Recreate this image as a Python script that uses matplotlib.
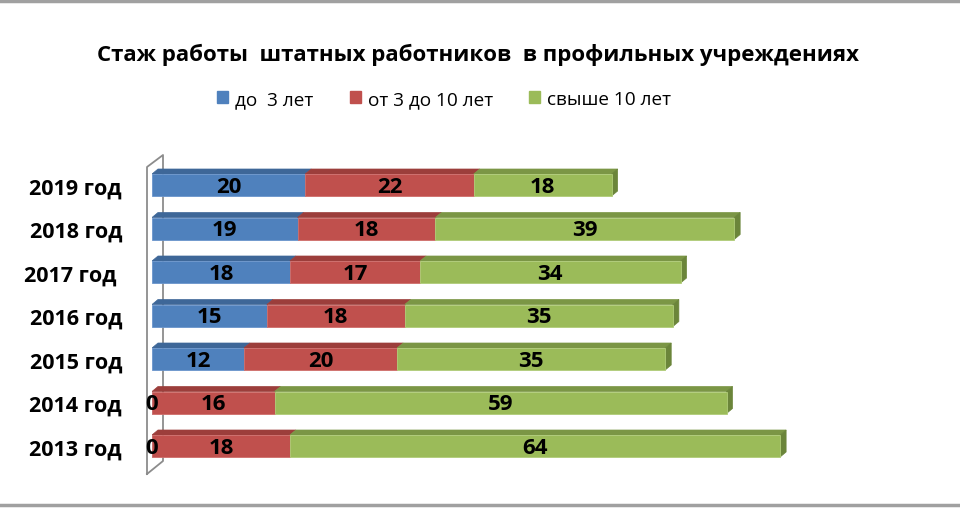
import matplotlib
matplotlib.use("Agg")
import matplotlib.pyplot as plt
from matplotlib.patches import Polygon, Patch
from matplotlib.lines import Line2D
import numpy as np

plt.rcParams['font.family'] = ['Open Sans', 'DejaVu Sans']

years = ["2013 год", "2014 год", "2015 год", "2016 год", "2017 год ", "2018 год", "2019 год"]
under3 = [0, 0, 12, 15, 18, 19, 20]
from3to10 = [18, 16, 20, 18, 17, 18, 22]
over10 = [64, 59, 35, 35, 34, 39, 18]
series_names = ["до  3 лет", "от 3 до 10 лет", "свыше 10 лет"]
title = "Стаж работы  штатных работников  в профильных учреждениях"

front_colors = ["#4F81BD", "#C0504D", "#9BBB59"]
edge_colors = ["#6A95CC", "#CF6D6A", "#B0CC78"]
top_colors = ["#3E6798", "#9C3E3B", "#7B9645"]
side_colors = ["#3A5F8D", "#8E3835", "#6B853A"]

W, H = 960, 510
fig = plt.figure(figsize=(W / 100, H / 100), dpi=100)

# axes in pixel layout
ax_left, ax_right = 152, 918
ax_top, ax_bottom = 164.25, 468.75
ax = fig.add_axes([ax_left / W, 1 - ax_bottom / H, (ax_right - ax_left) / W, (ax_bottom - ax_top) / H])
ax.set_xlim(0, 100)
ax.set_ylim(-0.5, 6.5)
ax.axis('off')

px_x = 100 / (ax_right - ax_left)
px_y = 7 / (ax_bottom - ax_top)
dx, dy = 6 * px_x, 5 * px_y
bh = 22 * px_y

y = np.arange(len(years))
data = [under3, from3to10, over10]
left = np.zeros(len(years))
for si, vals in enumerate(data):
    vals = np.array(vals, dtype=float)
    ax.barh(y, vals, left=left, height=bh, color=front_colors[si],
            edgecolor=edge_colors[si], linewidth=0.6, zorder=3)
    for i in range(len(years)):
        l, r = left[i], left[i] + vals[i]
        t = y[i] + bh / 2
        if vals[i] > 0:
            ax.add_patch(Polygon([[l, t], [r, t], [r + dx, t + dy], [l + dx, t + dy]],
                                 closed=True, facecolor=top_colors[si],
                                 edgecolor=top_colors[si], linewidth=0.5, zorder=2))
        ax.text((l + r) / 2, y[i] - 1.5 * px_y, f"{int(vals[i])}", ha='center', va='center',
                fontsize=16, fontweight='bold', color='black', zorder=5)
    left = left + vals

# side faces at bar ends
for i in range(len(years)):
    r = left[i]
    b, t = y[i] - bh / 2, y[i] + bh / 2
    ax.add_patch(Polygon([[r, b], [r, t], [r + dx, t + dy], [r + dx, b + dy]],
                         closed=True, facecolor=side_colors[2], edgecolor=side_colors[2],
                         linewidth=0.5, zorder=2))

# category labels
for i, lab in enumerate(years):
    ax.text(-30 * px_x, y[i] - 3 * px_y, lab, ha='right', va='center', fontsize=15.5,
            fontweight='bold', color='black')

# 3D wall (axis)
wx0, wx1 = -5 * px_x, 11 * px_x
wy_top_front = 6.5 - (168 - ax_top) * px_y
wy_top_back = 6.5 - (156 - ax_top) * px_y
wy_bot_front = 6.5 - (475 - ax_top) * px_y
wy_bot_back = 6.5 - (462 - ax_top) * px_y
ax.add_line(Line2D([wx0, wx0, wx1, wx1, wx0],
                   [wy_bot_front, wy_top_front, wy_top_back, wy_bot_back, wy_bot_front],
                   color='#8C8C8C', linewidth=1.3, clip_on=False, zorder=1))

# title and legend
fig.text(478 / W, 1 - 55 / H, title, ha='center', va='center', fontsize=16,
         fontweight='bold', color='black')
handles = [Patch(facecolor=c, edgecolor=c) for c in front_colors]
fig.legend(handles, series_names, loc='center', bbox_to_anchor=(444 / W, 1 - 100 / H),
           ncol=3, frameon=False, fontsize=13.7, handlelength=0.6, handleheight=0.6,
           handletextpad=0.35, columnspacing=1.9)

# frame lines top and bottom
fig.add_artist(Line2D([0, 1], [1 - 1.5 / H, 1 - 1.5 / H], color='#A0A0A0', linewidth=2.5))
fig.add_artist(Line2D([0, 1], [1 - 506 / H, 1 - 506 / H], color='#A0A0A0', linewidth=2.5))

fig.savefig("out.png", dpi=100, facecolor='white')
